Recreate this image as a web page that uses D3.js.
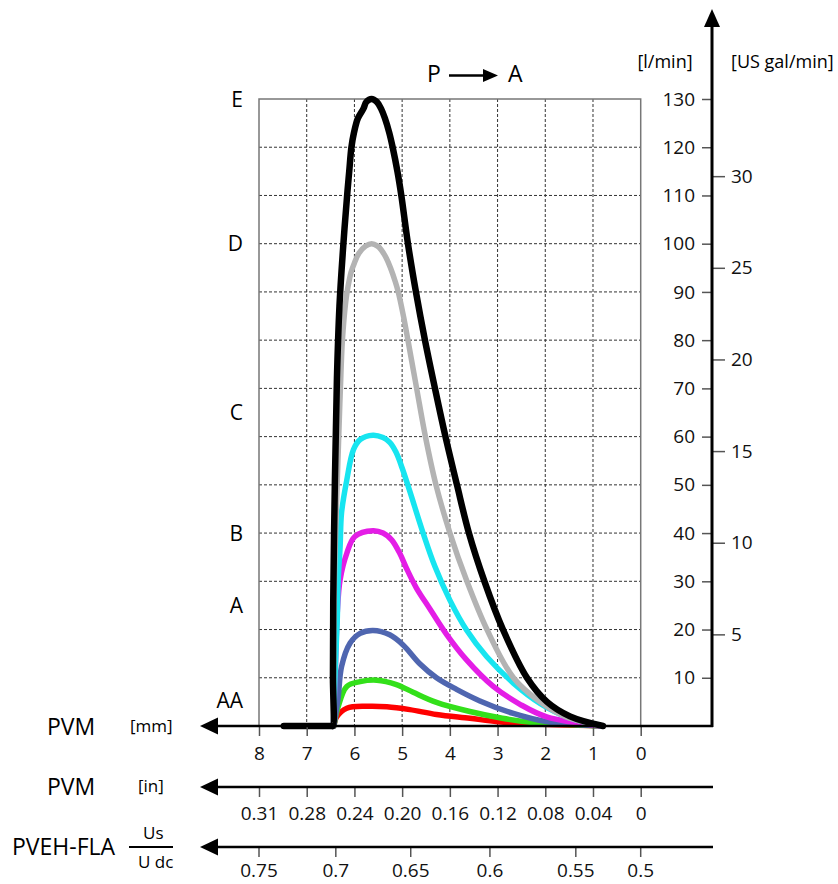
<!DOCTYPE html>
<html>
<head>
<meta charset="utf-8">
<script src="https://cdn.jsdelivr.net/npm/d3@7"></script>
<style>
 body { margin: 0; background: #fff; }
 svg { font-family: "Open Sans", sans-serif; }
</style>
</head>
<body>
<div id="chart"></div>
<script>
var mmTicks = [8, 7, 6, 5, 4, 3, 2, 1, 0];
var inchLabels = ["0.31", "0.28", "0.24", "0.20", "0.16", "0.12", "0.08", "0.04", "0"];
var ratioTicks = [0.75, 0.7, 0.65, 0.6, 0.55, 0.5];
var ratioAtMm = [8, 6.39, 4.82, 3.16, 1.36, 0];
var flowTicks = [10, 20, 30, 40, 50, 60, 70, 80, 90, 100, 110, 120, 130];
var galTicks = [5, 10, 15, 20, 25, 30];
var litresPerGal = 3.8;

var classNames = ["AA", "A", "B", "C", "D", "E"];
var classFlow = [5.4, 25, 40, 65, 100, 130];

var seriesColors = ["#ff0000", "#33e01a", "#4f66b0", "#e41de6", "#17e5f0", "#b3b3b3", "#000000"];

var curveRed = [[6.43, 0], [6.37, 1.9], [6.16, 3.7], [5.74, 4.1], [5.32, 4.0], [4.84, 3.4], [4.28, 2.4], [3.58, 1.6], [3.0, 0.9], [2.32, 0.45], [0.8, 0]];
var curveGreen = [[6.43, 0], [6.34, 4], [6.16, 8.2], [5.88, 9.2], [5.53, 9.5], [5.12, 8.6], [4.77, 7.0], [4.28, 4.9], [3.58, 3.0], [2.9, 1.6], [2.32, 0.8], [0.8, 0]];
var curveBlue = [[6.43, 0], [6.34, 6], [6.27, 12.3], [6.09, 17.2], [5.88, 19.2], [5.61, 19.8], [5.26, 18.9], [4.98, 16.8], [4.63, 12.9], [4.28, 10.0], [3.86, 7.6], [3.37, 5.2], [2.67, 2.6], [1.97, 0.9], [0.8, 0]];
var curveMagenta = [[6.44, 0], [6.40, 12], [6.36, 23.4], [6.30, 30.3], [6.16, 35.8], [5.99, 39.3], [5.61, 40.5], [5.40, 40], [5.22, 38.6], [5.05, 35.8], [4.90, 32.5], [4.70, 28.6], [4.42, 24.3], [4.07, 19], [3.65, 13.7], [3.09, 8.2], [2.53, 4.5], [1.97, 1.9], [0.8, 0]];
var curveCyan = [[6.44, 0], [6.40, 12], [6.36, 22], [6.34, 30.3], [6.30, 37.2], [6.27, 44.2], [6.16, 51], [6.02, 57.3], [5.88, 59.4], [5.61, 60.3], [5.40, 59.8], [5.26, 58.8], [5.13, 56.8], [5.00, 53.5], [4.85, 49], [4.56, 40], [4.31, 33], [4.0, 26.1], [3.65, 19.9], [3.23, 14.4], [2.67, 8.9], [2.11, 4.7], [1.55, 1.9], [0.8, 0]];
var curveGray = [[6.44, 0], [6.419, 30], [6.329, 60], [6.294, 70], [6.252, 80], [6.182, 88], [6.136, 91], [6.073, 94], [6.0, 96], [5.906, 98], [5.765, 99.5], [5.64, 100], [5.514, 99.5], [5.444, 98.8], [5.331, 97], [5.245, 95], [5.14, 92], [5.082, 90], [4.973, 85], [4.878, 80], [4.696, 70], [4.512, 60], [4.291, 50], [3.998, 40], [3.642, 30], [3.222, 20], [2.667, 10], [2.111, 5], [1.587, 2], [0.79, 0]];
var curveBlack = [[7.48, 0], [6.47, 0], [6.45, 0], [6.45, 10], [6.444, 26], [6.409, 51], [6.367, 72], [6.314, 87], [6.231, 100], [6.145, 111], [6.109, 115], [6.063, 120], [6.01, 123], [5.927, 126], [5.811, 128], [5.75, 129.4], [5.64, 130], [5.53, 129.4], [5.442, 128], [5.361, 126], [5.27, 123], [5.199, 120], [5.099, 115], [5.017, 110], [4.878, 100], [4.711, 90], [4.522, 80], [4.312, 70], [4.092, 60], [3.851, 50], [3.6, 40], [3.275, 30], [2.887, 20], [2.384, 10], [1.964, 5], [1.482, 2], [0.79, 0]];

var curves = [curveRed, curveGreen, curveBlue, curveMagenta, curveCyan, curveGray, curveBlack];

var width = 838,
 height = 884;

var x = d3.scaleLinear()
 .domain([0, 8])
 .range([640.7, 259]);

var y = d3.scaleLinear()
 .domain([0, 130])
 .range([726, 99]);

var yGal = d3.scaleLinear()
 .domain([0, 130 / litresPerGal])
 .range([726, 99]);

var ratioPos = d3.scaleOrdinal()
 .domain(ratioTicks)
 .range(ratioAtMm.map(function(d) { return x(d); }));

var svg = d3.select("#chart")
 .append("svg")
 .attr("width", width)
 .attr("height", height);

// grid
var grid = svg.append("g");

grid.selectAll(".vgrid")
 .data(d3.range(1, 8))
 .enter().append("line")
 .attr("x1", function(d) { return x(d); })
 .attr("x2", function(d) { return x(d); })
 .attr("y1", y(130))
 .attr("y2", y(0))
 .attr("stroke", "#333")
 .attr("stroke-width", 1)
 .attr("stroke-dasharray", "3,2");

grid.selectAll(".hgrid")
 .data(flowTicks.slice(0, -1))
 .enter().append("line")
 .attr("x1", x(8))
 .attr("x2", x(0))
 .attr("y1", function(d) { return y(d); })
 .attr("y2", function(d) { return y(d); })
 .attr("stroke", "#333")
 .attr("stroke-width", 1)
 .attr("stroke-dasharray", "3,2");

grid.append("path")
 .attr("d", "M" + x(8) + "," + y(0) + "V" + y(130) + "H" + x(0) + "V" + y(0))
 .attr("fill", "none")
 .attr("stroke", "#777")
 .attr("stroke-width", 1.5);

// curves
var line = d3.line()
 .x(function(d) { return x(d[0]); })
 .y(function(d) { return y(d[1]); })
 .curve(d3.curveCatmullRom.alpha(0.5));

svg.selectAll(".curve")
 .data(curves)
 .enter().append("path")
 .attr("class", "curve")
 .attr("d", line)
 .attr("fill", "none")
 .attr("stroke", function(d, i) { return seriesColors[i]; })
 .attr("stroke-width", function(d, i) { return i == 6 ? 6.5 : 5.5; })
 .attr("stroke-linecap", "round")
 .attr("stroke-linejoin", "round");

// class labels
svg.selectAll(".cls")
 .data(classNames)
 .enter().append("text")
 .attr("x", 243)
 .attr("y", function(d, i) { return y(classFlow[i]); })
 .attr("dy", "0.36em")
 .attr("text-anchor", "end")
 .style("font-size", "21px")
 .text(function(d) { return d; });

// horizontal axes
function leftArrow(yy) {
 svg.append("line")
  .attr("x1", 212)
  .attr("x2", 713)
  .attr("y1", yy)
  .attr("y2", yy)
  .attr("stroke", "#000")
  .attr("stroke-width", 2.5);
 svg.append("path")
  .attr("d", "M200," + yy + "L218," + (yy - 8.5) + "L218," + (yy + 8.5) + "Z")
  .attr("fill", "#000");
}

function styleAxis(g) {
 g.select(".domain").remove();
 g.selectAll(".tick line").attr("stroke", "#555").attr("stroke-width", 1.5);
 g.selectAll(".tick text").style("font-size", "19px").attr("fill", "#111");
 g.attr("font-family", null);
}

svg.append("g")
 .attr("transform", "translate(0," + y(0) + ")")
 .call(d3.axisBottom(x).tickValues(mmTicks).tickSize(10).tickPadding(10.5).tickFormat(d3.format("d")))
 .call(styleAxis);

var inY = 787;
svg.append("g")
 .attr("transform", "translate(0," + inY + ")")
 .call(d3.axisBottom(x).tickValues(mmTicks).tickSize(10).tickPadding(9.5)
  .tickFormat(function(d, i) { return inchLabels[i]; }))
 .call(styleAxis);

var ratioY = 847;
svg.append("g")
 .attr("transform", "translate(0," + ratioY + ")")
 .call(d3.axisBottom(ratioPos).tickSize(10).tickPadding(7)
  .tickFormat(function(d) { return String(d); }))
 .call(function(g) {
  g.selectAll(".tick").attr("transform", function(d) { return "translate(" + ratioPos(d) + ",0)"; });
 })
 .call(styleAxis);

leftArrow(y(0));
leftArrow(inY);
leftArrow(ratioY);

// vertical axis
var axisX = 712;

svg.append("g")
 .attr("transform", "translate(" + axisX + ",0)")
 .call(d3.axisLeft(y).tickValues(flowTicks).tickSize(10).tickPadding(7))
 .call(styleAxis);

svg.append("g")
 .attr("transform", "translate(" + axisX + ",0)")
 .call(d3.axisRight(yGal).tickValues(galTicks).tickSize(13).tickPadding(6))
 .call(styleAxis);

svg.append("line")
 .attr("x1", axisX)
 .attr("x2", axisX)
 .attr("y1", y(0) + 1)
 .attr("y2", 24)
 .attr("stroke", "#000")
 .attr("stroke-width", 3);

svg.append("path")
 .attr("d", "M" + axisX + ",9L" + (axisX - 8) + ",27L" + (axisX + 8) + ",27Z")
 .attr("fill", "#000");

svg.append("text")
 .attr("x", 665)
 .attr("y", 68)
 .attr("text-anchor", "middle")
 .style("font-size", "18px")
 .text("[l/min]");

svg.append("text")
 .attr("x", 731)
 .attr("y", 68)
 .style("font-size", "18px")
 .text("[US gal/min]");

// P -> A
svg.append("text")
 .attr("x", 427)
 .attr("y", 82)
 .style("font-size", "23px")
 .text("P");

svg.append("line")
 .attr("x1", 449)
 .attr("x2", 486)
 .attr("y1", 75.5)
 .attr("y2", 75.5)
 .attr("stroke", "#000")
 .attr("stroke-width", 2.5);

svg.append("path")
 .attr("d", "M498,75.5L483,69L483,82Z")
 .attr("fill", "#000");

svg.append("text")
 .attr("x", 508)
 .attr("y", 82)
 .style("font-size", "23px")
 .text("A");

// axis titles on the left
svg.append("text")
 .attr("x", 47)
 .attr("y", 735)
 .style("font-size", "23px")
 .text("PVM");

svg.append("text")
 .attr("x", 130)
 .attr("y", 732)
 .style("font-size", "17px")
 .text("[mm]");

svg.append("text")
 .attr("x", 47)
 .attr("y", 795)
 .style("font-size", "23px")
 .text("PVM");

svg.append("text")
 .attr("x", 138)
 .attr("y", 792)
 .style("font-size", "17px")
 .text("[in]");

svg.append("text")
 .attr("x", 12)
 .attr("y", 855)
 .style("font-size", "23px")
 .text("PVEH-FLA");

svg.append("text")
 .attr("x", 143)
 .attr("y", 839)
 .style("font-size", "17px")
 .text("Us");

svg.append("line")
 .attr("x1", 129)
 .attr("x2", 173)
 .attr("y1", ratioY)
 .attr("y2", ratioY)
 .attr("stroke", "#000")
 .attr("stroke-width", 2);

svg.append("text")
 .attr("x", 138)
 .attr("y", 868)
 .style("font-size", "17px")
 .text("U dc");
</script>
</body>
</html>
